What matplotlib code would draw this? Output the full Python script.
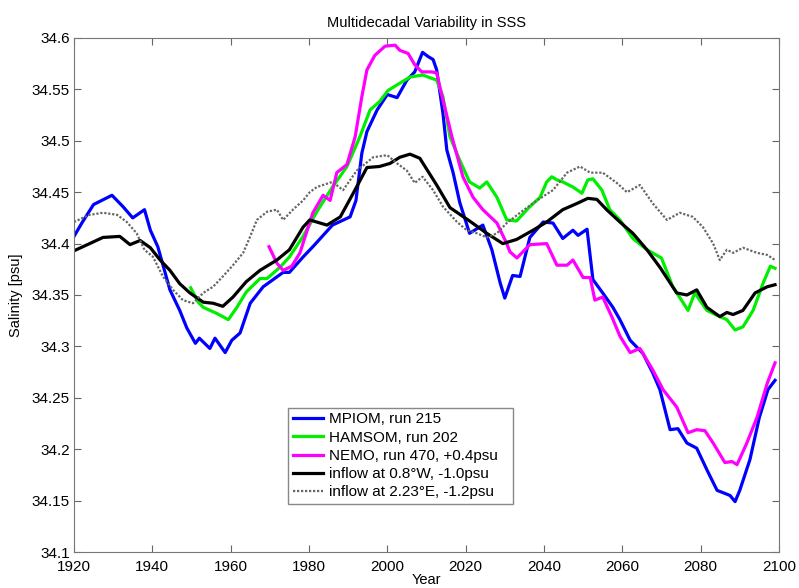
import matplotlib.pyplot as plt

plt.rcParams['font.family'] = ['Liberation Sans', 'DejaVu Sans']

# MPIOM, run 215
mpiom_yr = [1920, 1922, 1925, 1929.7, 1932.5, 1935, 1938, 1939.5, 1941.4, 1944.5, 1947,
            1948.8, 1951, 1952, 1954.7, 1956, 1958.6, 1960.3, 1962.4, 1965, 1968.3, 1973.4,
            1975, 1978.5, 1981, 1986, 1990.5, 1992, 1993.5, 1994.8, 1997.4, 2000, 2002.5,
            2005, 2007, 2009, 2010.4, 2011.7, 2012.6, 2014.2, 2015.2, 2016.8, 2018.5, 2021,
            2024.4, 2026.7, 2028.8, 2030, 2032, 2033.9, 2036.4, 2039.8, 2042.3, 2044.8,
            2047.4, 2048.7, 2051, 2052.5, 2055, 2057.6, 2059.4, 2062, 2065.3, 2067.8, 2069.6,
            2072.2, 2074.2, 2076.5, 2079, 2081.6, 2084.2, 2086.2, 2087.5, 2088.8, 2090,
            2092.6, 2095, 2097.2, 2099]
mpiom = [34.407, 34.42, 34.438, 34.447, 34.436, 34.425, 34.433, 34.413, 34.397, 34.355, 34.335,
         34.318, 34.303, 34.308, 34.298, 34.308, 34.294, 34.306, 34.313, 34.342, 34.358, 34.372,
         34.372, 34.387, 34.397, 34.418, 34.426, 34.442, 34.488, 34.509, 34.530, 34.545, 34.542,
         34.559, 34.567, 34.586, 34.582, 34.579, 34.569, 34.527, 34.491, 34.469, 34.44, 34.41,
         34.418, 34.394, 34.362, 34.347, 34.369, 34.368, 34.406, 34.421, 34.42, 34.405,
         34.413, 34.408, 34.414, 34.365, 34.352, 34.338, 34.326, 34.306, 34.293, 34.274, 34.258,
         34.219, 34.22, 34.206, 34.201, 34.18, 34.16, 34.157, 34.155, 34.149, 34.16,
         34.19, 34.231, 34.258, 34.267]

# HAMSOM, run 202
hamsom_yr = [1949.8, 1951.7, 1953, 1956.5, 1959.4, 1961.6, 1964, 1967.5, 1969.3, 1972.6, 1975,
             1978.5, 1982, 1986, 1989.7, 1993, 1995.6, 1998, 2000.2, 2003.2, 2005.8, 2009,
             2012.6, 2014.2, 2016, 2018.5, 2021, 2023.6, 2025.4, 2028, 2030.5, 2033, 2036.4,
             2039, 2040.7, 2042, 2043.3, 2044.8, 2047.4, 2049.7, 2051.2, 2052.5, 2054.8,
             2056.8, 2059.4, 2062.7, 2066.3, 2070, 2072.9, 2076.8, 2078.5, 2081.6, 2084.9,
             2086.7, 2088.8, 2090.8, 2093.4, 2096, 2097.8, 2099]
hamsom = [34.357, 34.343, 34.338, 34.332, 34.326, 34.338, 34.353, 34.366, 34.366, 34.377, 34.387,
          34.407, 34.431, 34.455, 34.475, 34.504, 34.53, 34.538, 34.549, 34.556, 34.562, 34.564,
          34.559, 34.543, 34.504, 34.481, 34.46, 34.454, 34.46, 34.445, 34.423, 34.422, 34.436,
          34.445, 34.46, 34.465, 34.462, 34.46, 34.455, 34.449, 34.462, 34.463, 34.452,
          34.433, 34.423, 34.405, 34.394, 34.386, 34.358, 34.335, 34.352, 34.335, 34.329,
          34.326, 34.316, 34.319, 34.335, 34.362, 34.378, 34.376]

# NEMO, run 470, shifted +0.4 psu
nemo_yr = [1969.8, 1971.8, 1973.4, 1975.6, 1977.7, 1979.8, 1981, 1983.6, 1985.4, 1987.1, 1989.7,
           1991.8, 1993.5, 1994.8, 1996.8, 1999.4, 2002, 2003.2, 2005.3, 2007, 2008.8, 2011.4,
           2012.6, 2014, 2016.5, 2019.3, 2021.9, 2024.4, 2028, 2030.5, 2031.3, 2033.1, 2036.4,
           2040.7, 2043.3, 2045.9, 2047.4, 2050, 2051.8, 2053, 2055, 2057.3, 2059.4, 2062,
           2064.5, 2067.8, 2070.4, 2073.9, 2076.8, 2079, 2081.1, 2083.2, 2086.2, 2088, 2089.3,
           2091.8, 2094.4, 2097, 2099]
nemo = [34.397, 34.381, 34.374, 34.378, 34.391, 34.416, 34.43, 34.447, 34.442, 34.469, 34.477,
        34.504, 34.543, 34.569, 34.583, 34.592, 34.593, 34.588, 34.585, 34.574, 34.567, 34.567,
        34.566, 34.543, 34.504, 34.465, 34.445, 34.433, 34.42, 34.4, 34.392, 34.386, 34.399,
        34.4, 34.379, 34.379, 34.384, 34.367, 34.367, 34.345, 34.348, 34.329, 34.31, 34.294,
        34.298, 34.277, 34.258, 34.241, 34.216, 34.219, 34.218, 34.206, 34.187, 34.188, 34.185,
        34.206, 34.231, 34.264, 34.284]

# inflow at 0.8 W, shifted -1.0 psu
west_yr = [1920, 1924, 1927.4, 1931.7, 1934.3, 1936.9, 1939.5, 1942, 1944.5, 1947, 1949.6,
           1953, 1955.5, 1958, 1960.6, 1964, 1967.5, 1971.8, 1975, 1978.5, 1980.2, 1984.6,
           1988, 1991.3, 1994.8, 1998, 2000.7, 2003.2, 2005.8, 2008.3, 2012.6, 2016, 2021,
           2025.4, 2029.5, 2033, 2037.2, 2040.7, 2044.8, 2048.4, 2051.2, 2053.5, 2056, 2059.4,
           2062.7, 2066.3, 2069.6, 2073.9, 2076.5, 2079, 2081.6, 2084.9, 2086.7, 2088.3,
           2090.8, 2093.9, 2097, 2099]
west = [34.393, 34.4, 34.406, 34.407, 34.399, 34.403, 34.396, 34.384, 34.374, 34.361, 34.352,
        34.343, 34.342, 34.339, 34.348, 34.363, 34.374, 34.384, 34.394, 34.416, 34.423, 34.418,
        34.426, 34.449, 34.474, 34.475, 34.478, 34.484, 34.487, 34.483, 34.457, 34.435, 34.422,
        34.41, 34.4, 34.404, 34.413, 34.421, 34.433, 34.439, 34.444, 34.443, 34.433, 34.421,
        34.41, 34.394, 34.377, 34.352, 34.35, 34.355, 34.338, 34.329, 34.333, 34.331,
        34.335, 34.352, 34.358, 34.36]

# inflow at 2.23 E, shifted -1.2 psu
east_yr = [1920, 1924, 1927.4, 1931, 1933.5, 1936, 1938, 1940.2, 1942.7, 1945.3, 1947.8,
           1950.4, 1953, 1955.5, 1958, 1960.6, 1963.2, 1965, 1966.7, 1969.3, 1971.8, 1973.4,
           1975.9, 1978.5, 1980.2, 1982, 1986, 1988.7, 1992.2, 1996.4, 2000, 2002.5, 2005,
           2007, 2009, 2011.7, 2014.2, 2017.8, 2020.3, 2022.9, 2025.4, 2028, 2030.5, 2033.9,
           2038.2, 2042.3, 2045.9, 2049.2, 2051.8, 2055, 2058.6, 2061.2, 2064.5, 2067.8,
           2071.4, 2074.7, 2078, 2080.6, 2083.2, 2084.9, 2086.7, 2088.3, 2090.8, 2094.4,
           2097, 2099]
east = [34.421, 34.428, 34.43, 34.428, 34.421, 34.41, 34.394, 34.387, 34.368, 34.355, 34.345,
        34.342, 34.352, 34.358, 34.368, 34.379, 34.391, 34.407, 34.423, 34.431, 34.433, 34.423,
        34.433, 34.442, 34.45, 34.455, 34.46, 34.452, 34.471, 34.484, 34.486, 34.478, 34.471,
        34.459, 34.465, 34.452, 34.436, 34.421, 34.413, 34.41, 34.406, 34.41, 34.42, 34.43,
        34.442, 34.452, 34.469, 34.475, 34.469, 34.469, 34.459, 34.45, 34.457, 34.439,
        34.423, 34.43, 34.426, 34.416, 34.4, 34.384, 34.394, 34.391, 34.396, 34.391,
        34.389, 34.384]

fig = plt.figure(figsize=(7.99, 5.88), dpi=100)
ax = fig.add_axes([0.0926, 0.0612, 0.8823, 0.8742])

ax.plot(mpiom_yr, mpiom, color='#0000ff', lw=2.3, label='MPIOM, run 215')
ax.plot(hamsom_yr, hamsom, color='#00ee00', lw=2.3, label='HAMSOM, run 202')
ax.plot(nemo_yr, nemo, color='#ff00ff', lw=2.3, label='NEMO, run 470, +0.4psu')
ax.plot(west_yr, west, color='black', lw=2.3, label='inflow at 0.8°W, -1.0psu')
ax.plot(east_yr, east, color='#666666', lw=1.6, ls=(0, (1, 0.8)),
        label='inflow at 2.23°E, -1.2psu')

ax.set_xlim(1920, 2100)
ax.set_ylim(34.1, 34.6)
ax.set_xticks(range(1920, 2101, 20))
ax.set_yticks([34.1, 34.15, 34.2, 34.25, 34.3, 34.35, 34.4, 34.45, 34.5, 34.55, 34.6])
ax.set_yticklabels(['34.1', '34.15', '34.2', '34.25', '34.3', '34.35', '34.4',
                    '34.45', '34.5', '34.55', '34.6'])
ax.tick_params(direction='in', top=True, right=True, length=5, width=0.8,
               color='#666666', labelsize=11)
ax.tick_params(axis='y', pad=3)
ax.tick_params(axis='x', pad=6)
for s in ax.spines.values():
    s.set_color('#777777')

ax.set_title('Multidecadal Variability in SSS', fontsize=10.5, pad=8)
ax.set_xlabel('Year', fontsize=10.5, labelpad=-1)
ax.set_ylabel('Salinity [psu]', fontsize=10.5, labelpad=6)

leg = ax.legend(loc='lower left', bbox_to_anchor=(0.3035, 0.0934, 0.319, 0.212),
                mode='expand', fontsize=11, fancybox=False, framealpha=1,
                edgecolor='#888888', handlelength=2.0, handletextpad=0.4,
                labelspacing=0.28, borderaxespad=0, borderpad=0.3)
leg.get_frame().set_linewidth(1.0)

fig.savefig('out.png', dpi=100)
